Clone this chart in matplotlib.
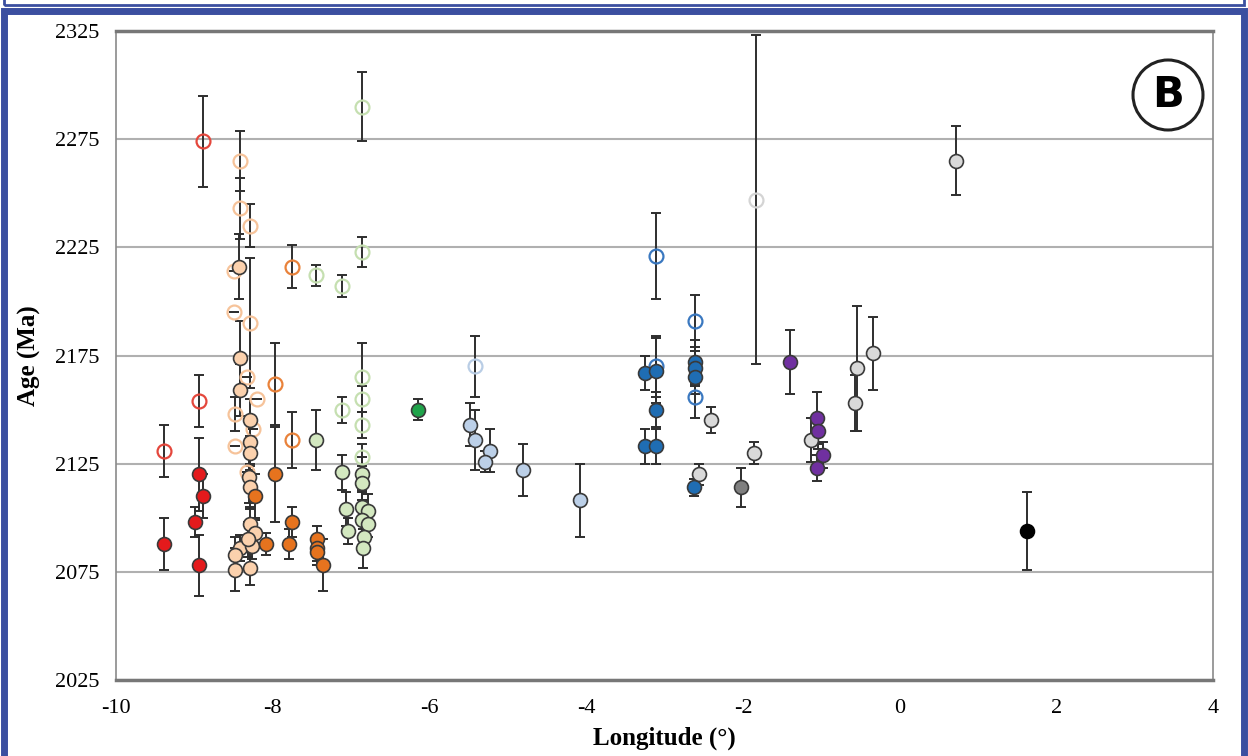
import matplotlib.pyplot as plt
from matplotlib.patches import Rectangle, Circle

plt.rcParams['font.family'] = ['Liberation Serif', 'DejaVu Serif']
plt.rcParams['axes.unicode_minus'] = False

# data: longitude, age (Ma), error (Ma) for each group
red_open_lon = [-8.89, -8.94, -9.39]
red_open_age = [2274, 2154, 2131]
red_open_err = [21, 12, 12]

red_lon = [-9.39, -8.94, -8.89, -8.99, -8.94]
red_age = [2088, 2120, 2110, 2098, 2078]
red_err = [12, 17, 10, 7, 14]

peach_open_lon = [-8.42, -8.42, -8.29, -8.49, -8.49, -8.29, -8.33, -8.48, -8.20, -8.25, -8.48, -8.33]
peach_open_age = [2265, 2243, 2235, 2214, 2195, 2190, 2165, 2148, 2155, 2141, 2133, 2121]
peach_open_err = [14, 14, 10, 0, 0, 30, 0, 8, 0, 0, 0, 0]

peach_lon = [-8.43, -8.42, -8.42, -8.29, -8.29, -8.29, -8.30, -8.29, -8.29, -8.23, -8.42, -8.48, -8.26, -8.48, -8.29, -8.32]
peach_age = [2216, 2174, 2159, 2145, 2135, 2130, 2119, 2114, 2097, 2093, 2086, 2083, 2087, 2076, 2077, 2090]
peach_err = [15, 17, 12, 10, 10, 8, 12, 10, 8, 6, 6, 8, 6, 10, 8, 8]

orange_open_lon = [-7.97, -7.75, -7.75]
orange_open_age = [2162, 2136, 2216]
orange_open_err = [19, 13, 10]

orange_lon = [-7.97, -7.75, -8.23, -8.09, -7.79, -7.43, -7.43, -7.43, -7.36]
orange_age = [2120, 2098, 2110, 2088, 2088, 2090, 2086, 2084, 2078]
orange_err = [22, 7, 10, 5, 7, 6, 6, 6, 12]

lgreen_open_lon = [-6.86, -7.45, -7.12, -6.86, -7.12, -6.86, -6.86, -6.86, -6.86]
lgreen_open_age = [2290, 2212, 2207, 2223, 2150, 2165, 2155, 2143, 2128]
lgreen_open_err = [16, 5, 5, 7, 6, 16, 6, 6, 6]

lgreen_lon = [-7.45, -7.12, -7.07, -7.04, -6.86, -6.86, -6.86, -6.78, -6.86, -6.79, -6.84, -6.85]
lgreen_age = [2136, 2121, 2104, 2094, 2120, 2116, 2105, 2103, 2099, 2097, 2091, 2086]
lgreen_err = [14, 8, 8, 6, 8, 8, 8, 8, 8, 6, 6, 9]

green_lon = [-6.15]
green_age = [2150]
green_err = [5]

pblue_open_lon = [-5.42]
pblue_open_age = [2170]
pblue_open_err = [14]

pblue_lon = [-5.48, -5.42, -5.23, -5.29, -4.81, -4.08]
pblue_age = [2143, 2136, 2131, 2126, 2122, 2108]
pblue_err = [10, 14, 10, 5, 12, 17]

blue_open_lon = [-3.11, -2.61, -2.61, -3.11]
blue_open_age = [2221, 2191, 2156, 2170]
blue_open_err = [20, 12, 10, 14]

blue_lon = [-3.25, -3.11, -3.11, -3.25, -3.11, -2.61, -2.61, -2.61, -2.62]
blue_age = [2167, 2168, 2150, 2133, 2133, 2172, 2169, 2165, 2114]
blue_err = [8, 15, 8, 8, 8, 10, 8, 8, 4]

gray_open_lon = [-1.83]
gray_open_age = [2247]
gray_open_err = [76]

lgray_lon = [-2.41, -2.56, -1.86, 0.72, -1.13, -0.54, -0.34, -0.57]
lgray_age = [2145, 2120, 2130, 2265, 2136, 2169, 2176, 2153]
lgray_err = [6, 5, 5, 16, 10, 29, 17, 13]

gray_lon = [-2.02]
gray_age = [2114]
gray_err = [9]

purple_lon = [-1.40, -1.06, -1.04, -0.98, -1.06]
purple_age = [2172, 2146, 2140, 2129, 2123]
purple_err = [15, 12, 8, 6, 6]

black_lon = [1.62]
black_age = [2094]
black_err = [18]

groups = [
    (red_open_lon, red_open_age, red_open_err, 'none', '#e4473c'),
    (peach_open_lon, peach_open_age, peach_open_err, 'none', '#f6c39a'),
    (orange_open_lon, orange_open_age, orange_open_err, 'none', '#e9823a'),
    (lgreen_open_lon, lgreen_open_age, lgreen_open_err, 'none', '#c5dfb0'),
    (pblue_open_lon, pblue_open_age, pblue_open_err, 'none', '#b9cde5'),
    (blue_open_lon, blue_open_age, blue_open_err, 'none', '#3a78c0'),
    (gray_open_lon, gray_open_age, gray_open_err, 'none', '#d4d4d4'),
    (red_lon, red_age, red_err, '#e41a1c', '#3a3a3a'),
    (peach_lon, peach_age, peach_err, '#fbd1ad', '#3a3a3a'),
    (orange_lon, orange_age, orange_err, '#e6731e', '#3a3a3a'),
    (lgreen_lon, lgreen_age, lgreen_err, '#d3e8c0', '#3a3a3a'),
    (green_lon, green_age, green_err, '#1fa34a', '#3a3a3a'),
    (pblue_lon, pblue_age, pblue_err, '#bcd0e8', '#3a3a3a'),
    (blue_lon, blue_age, blue_err, '#1f6db3', '#3a3a3a'),
    (lgray_lon, lgray_age, lgray_err, '#d9d9d9', '#3a3a3a'),
    (gray_lon, gray_age, gray_err, '#7f7f7f', '#3a3a3a'),
    (purple_lon, purple_age, purple_err, '#7030a0', '#3a3a3a'),
    (black_lon, black_age, black_err, '#000000', '#000000'),
]

fig = plt.figure(figsize=(12.48, 7.56), dpi=100)
ax = fig.add_axes([0.093, 0.1005, 0.879, 0.8585])

for lon, age, err, face, edge in groups:
    ax.errorbar(lon, age, yerr=err, fmt='none', ecolor='#2e2e2e',
                elinewidth=1.4, capsize=3.5, capthick=1.4, zorder=2)
    ax.plot(lon, age, 'o', ms=10, mfc=face, mec=edge,
            mew=1.6 if face == 'none' else 1.2, zorder=3)

ax.set_xlim(-10, 4)
ax.set_ylim(2025, 2325)
ax.set_xticks(range(-10, 5, 2))
ax.set_yticks(range(2025, 2326, 50))
ax.grid(axis='y', color='#b0b0b0', lw=1.5)
ax.set_axisbelow(True)
ax.tick_params(length=0, labelsize=16)
ax.tick_params(axis='x', pad=14)
ax.tick_params(axis='y', pad=12)
for s in ['left', 'right']:
    ax.spines[s].set_color('#8a8a8a')
    ax.spines[s].set_linewidth(1.2)
ax.spines['top'].set_color('#777777')
ax.spines['top'].set_linewidth(2.5)
ax.spines['bottom'].set_color('#777777')
ax.spines['bottom'].set_linewidth(2.5)
ax.set_xlabel('Longitude (°)', fontsize=18, fontweight='bold', labelpad=6)
ax.set_ylabel('Age (Ma)', fontsize=18, fontweight='bold', labelpad=10)

# panel label
circ = Circle((1168, 756 - 95), 35, transform=None, fill=False, ec='#222222', lw=2.2, zorder=5)
fig.patches.append(circ)
fig.text(1168 / 1248, 1 - 95 / 756, 'B', ha='center', va='center',
         fontsize=30, fontweight='bold', family=['DejaVu Sans'])

# blue frame
fig.patches.append(Rectangle((0.003, -0.01), 0.994, 0.995, transform=fig.transFigure,
                             fill=False, ec='#3b4fa0', lw=5))
fig.patches.append(Rectangle((0.003, 0.993), 0.994, 0.02, transform=fig.transFigure,
                             fill=False, ec='#3b4fa0', lw=2))

fig.savefig('out.png', dpi=100)
